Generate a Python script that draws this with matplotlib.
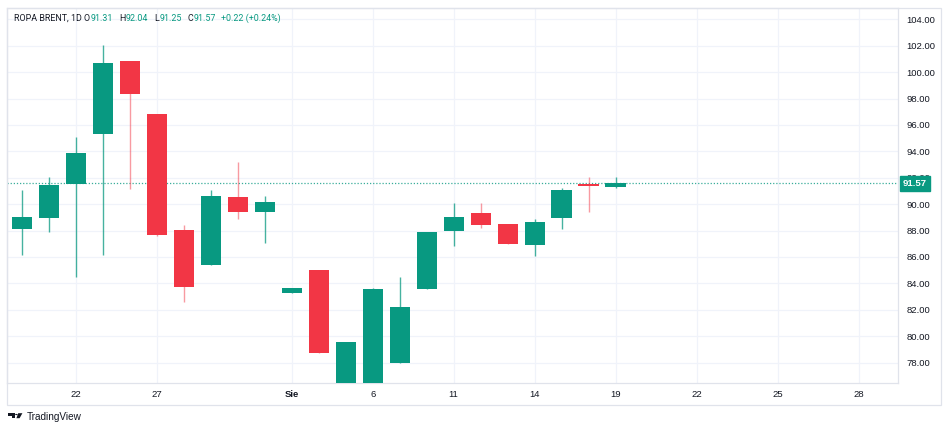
import matplotlib
matplotlib.use("Agg")
import matplotlib.pyplot as plt
from matplotlib.patches import Rectangle, Circle, Polygon

# daily candles, ROPA BRENT 1D
opens = [88.10, 88.97, 91.52, 95.29, 100.84, 96.83, 88.04, 85.36, 90.52, 89.38,
         83.24, 85.00, 76.20, 76.30, 78.00, 83.57, 87.98, 89.30, 88.49, 86.88,
         88.92, 91.42, 91.31]
highs = [91.07, 92.03, 95.08, 102.05, 100.84, 96.83, 88.42, 91.07, 93.19, 90.64,
         83.62, 85.00, 79.55, 83.67, 84.45, 87.91, 90.06, 90.10, 88.49, 88.85,
         91.22, 92.03, 92.04]
lows = [86.17, 87.90, 84.45, 86.12, 91.12, 87.60, 82.60, 85.36, 88.90, 87.08,
        83.24, 78.74, 76.00, 76.00, 78.00, 83.57, 86.83, 88.21, 87.00, 86.07,
        88.09, 89.38, 91.25]
closes = [89.00, 91.45, 93.87, 100.67, 98.32, 87.64, 83.74, 90.59, 89.42, 90.16,
          83.62, 78.74, 79.55, 83.57, 82.23, 87.91, 89.00, 88.39, 87.00, 88.62,
          91.09, 91.36, 91.57]

tick_pos = [2, 5, 10, 13, 16, 19, 22, 25, 28, 31]
tick_labels = ['22', '27', 'Sie', '6', '11', '14', '19', '22', '25', '28']
price_ticks = [78, 80, 82, 84, 86, 88, 90, 92, 94, 96, 98, 100, 102, 104]
last_price = 91.57

GREEN = '#089981'
RED = '#F23645'
TEXT = '#131722'
GRID = '#f0f3fa'
BORDER = '#e0e3eb'

plt.rcParams['font.family'] = ['Liberation Sans', 'DejaVu Sans']

W, H = 948, 430
fig = plt.figure(figsize=(W / 100, H / 100), dpi=100)
fig.patch.set_facecolor('white')

# plot area in pixels: x 7..898, y 8..383
ax = fig.add_axes([7 / W, (H - 383) / H, (898 - 7) / W, (383 - 8) / H])
ax.set_xlim(-0.544, 32.46)
ax.set_ylim(76.45, 104.86)

for i in range(len(opens)):
    o, h, l, c = opens[i], highs[i], lows[i], closes[i]
    col = GREEN if c >= o else RED
    wick_alpha = 0.75 if c >= o else 0.5
    ax.vlines(i, l, h, color=col, lw=1.0, alpha=wick_alpha, zorder=2)
    body = max(abs(c - o), 0.15)
    ax.bar(i, body, bottom=min(o, c), width=0.75, color=col, lw=0, zorder=3)

# current price line
ax.axhline(last_price, color=GREEN, lw=0.9, ls=(0, (1, 1.5)), alpha=0.8, zorder=1)

ax.set_xticks(tick_pos)
ax.set_xticklabels(tick_labels)
for lab in ax.get_xticklabels():
    if lab.get_text() == 'Sie':
        lab.set_fontweight('bold')
ax.set_yticks(price_ticks)
ax.set_yticklabels(['%.2f' % p for p in price_ticks])
ax.yaxis.tick_right()
ax.tick_params(axis='both', length=0, labelsize=6.8, labelcolor=TEXT)
ax.tick_params(axis='x', pad=5)
ax.tick_params(axis='y', pad=6)
ax.grid(True, color=GRID, lw=0.9)
ax.set_axisbelow(True)
for s in ax.spines.values():
    s.set_color(BORDER)
    s.set_linewidth(0.9)

# price label on the right axis
ax.annotate('%.2f' % last_price, xy=(1, last_price), xycoords=('axes fraction', 'data'),
            xytext=(5, 0), textcoords='offset pixels', ha='left', va='center',
            fontsize=6.8, fontweight='bold', color='white', zorder=10,
            annotation_clip=False,
            bbox=dict(boxstyle='square,pad=0.28', fc=GREEN, ec=GREEN))

# outer frame of the widget
fig.patches.append(Rectangle((7 / W, (H - 405) / H), (941 - 7) / W, (405 - 8) / H,
                             transform=fig.transFigure, fill=False, ec=BORDER, lw=0.9))

# header line with OHLC values, groups start at fixed pixel x
header = [(14, [("ROPA BRENT, 1D", TEXT)]),
          (84, [("O", TEXT), ("91.31", GREEN)]),
          (119, [("H", TEXT), ("92.04", GREEN)]),
          (154, [("L", TEXT), ("91.25", GREEN)]),
          (187, [("C", TEXT), ("91.57", GREEN)]),
          (221, [("+0.22 (+0.24%)", GREEN)])]
renderer = fig.canvas.get_renderer()
for x0, pieces in header:
    x = x0
    for s, col in pieces:
        t = fig.text(x / W, 1 - 18.5 / H, s, color=col, fontsize=6.4,
                     family=['Roboto', 'DejaVu Sans'], va='center', ha='left')
        x = t.get_window_extent(renderer).x1 + 0.5

# TradingView logo + name
def px(x, y):
    return (x / W, 1 - y / H)

logo = [Polygon([px(8.0, 413.2), px(14.6, 413.2), px(14.6, 418.2), px(11.6, 418.2),
                 px(11.6, 415.6), px(8.0, 415.6)], closed=True),
        Circle(px(16.4, 414.5), 1.3 / W),
        Polygon([px(18.2, 413.2), px(22.4, 413.2), px(19.6, 418.2), px(16.4, 418.2)],
                closed=True)]
for p in logo:
    p.set_transform(fig.transFigure)
    p.set_facecolor(TEXT)
    p.set_edgecolor('none')
    fig.patches.append(p)
fig.text(26.5 / W, 1 - 416.5 / H, 'TradingView', fontsize=7.2, color=TEXT,
         va='center', ha='left')

fig.savefig('out.png', dpi=100, facecolor='white')
